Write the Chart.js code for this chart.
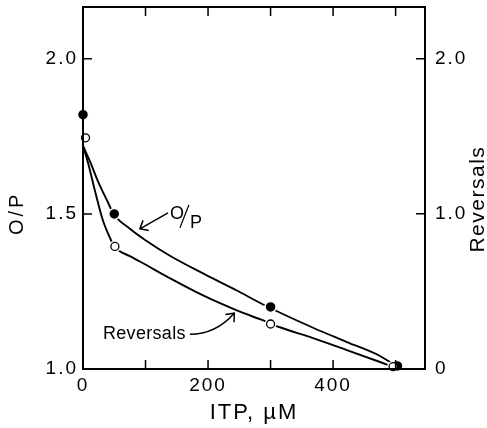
<!DOCTYPE html>
<html>
<head>
<meta charset="utf-8">
<script src="https://cdn.jsdelivr.net/npm/chart.js@4.4.0/dist/chart.umd.min.js"></script>
<style>
  html, body { margin: 0; padding: 0; background: #fff; }
</style>
</head>
<body>
<canvas id="itpChart" width="487" height="428"></canvas>
<script>
// O/P ratio (left axis) and reversals (right axis) against ITP concentration

// measured points
const opX = [0, 50, 300, 503];
const opY = [1.82, 1.5, 1.2, 1.01];
const revX = [4, 51, 300, 496];
const revY = [1.49, 0.79, 0.29, 0.015];

// drawn-in curves
const opCurveX = [0, 11, 24, 38, 50, 75, 100, 139, 192, 246, 288, 368, 422, 475, 497];
const opCurveY = [1.72, 1.67, 1.605, 1.545, 1.497, 1.452, 1.415, 1.365, 1.308, 1.253, 1.208, 1.133, 1.087, 1.042, 1.015];
const revCurveX = [0, 8, 19, 32, 43, 50, 75, 91, 139, 192, 246, 283, 315, 368, 422, 475, 495];
const revCurveY = [1.436, 1.33, 1.15, 0.955, 0.846, 0.79, 0.727, 0.693, 0.585, 0.474, 0.378, 0.321, 0.269, 0.199, 0.122, 0.045, 0.015];

// tick labels
const xLabels = [0, 200, 400];
const opLabels = [1.0, 1.5, 2.0];
const revLabels = [0, 1.0, 2.0];

const toPts = (xs, ys) => xs.map((x, i) => ({ x: x, y: ys[i] }));

Chart.defaults.font.family = '"Liberation Sans", Arial, sans-serif';
Chart.defaults.color = '#000';

const TICK = 9;
const FONT = '"Liberation Sans", Arial, sans-serif';

function arrow(ctx, x0, y0, cx, cy, x1, y1) {
    ctx.beginPath();
    ctx.moveTo(x0, y0);
    ctx.quadraticCurveTo(cx, cy, x1, y1);
    ctx.stroke();
    const ang = Math.atan2(y1 - cy, x1 - cx);
    const len = 9, spread = 0.7;
    ctx.beginPath();
    ctx.moveTo(x1 - len * Math.cos(ang - spread), y1 - len * Math.sin(ang - spread));
    ctx.lineTo(x1, y1);
    ctx.lineTo(x1 - len * Math.cos(ang + spread), y1 - len * Math.sin(ang + spread));
    ctx.stroke();
}

// no extra room for half tick labels at the ends
function noEndPadding(s) {
    s.paddingTop = 0;
    s.paddingBottom = 0;
    s.paddingLeft = 0;
    s.paddingRight = 0;
}

const framePlugin = {
    id: 'framePlugin',
    beforeLayout(chart) { chart.ctx.letterSpacing = '2px'; },
    beforeDraw(chart) { chart.ctx.letterSpacing = '2px'; },
    afterDatasetsDraw(chart) {
        const { ctx, chartArea: a, scales } = chart;
        const { x, y, y2 } = scales;
        ctx.save();
        ctx.strokeStyle = '#000';
        ctx.lineWidth = 2;
        ctx.strokeRect(a.left, a.top, a.right - a.left, a.bottom - a.top);

        // inward tick marks
        ctx.lineWidth = 1.5;
        ctx.beginPath();
        x.ticks.forEach(t => {
            if (t.value <= x.min) return;
            const px = x.getPixelForValue(t.value);
            ctx.moveTo(px, a.bottom); ctx.lineTo(px, a.bottom - TICK);
            ctx.moveTo(px, a.top); ctx.lineTo(px, a.top + TICK);
        });
        y.ticks.forEach(t => {
            if (t.value <= y.min) return;
            const py = y.getPixelForValue(t.value);
            ctx.moveTo(a.left, py); ctx.lineTo(a.left + TICK, py);
        });
        y2.ticks.forEach(t => {
            if (t.value <= y2.min) return;
            const py = y2.getPixelForValue(t.value);
            ctx.moveTo(a.right, py); ctx.lineTo(a.right - TICK, py);
        });
        ctx.stroke();

        // axis titles that read bottom-to-top
        ctx.fillStyle = '#000';
        ctx.textAlign = 'center';
        ctx.textBaseline = 'middle';
        ctx.font = '20px ' + FONT;
        ctx.letterSpacing = '3px';
        ctx.save();
        ctx.translate(17, y.getPixelForValue(1.497));
        ctx.rotate(-Math.PI / 2);
        ctx.fillText('O/P', 1.5, 0);
        ctx.restore();
        ctx.font = '21px ' + FONT;
        ctx.letterSpacing = '1.5px';
        ctx.save();
        ctx.translate(478, y2.getPixelForValue(1.09));
        ctx.rotate(-Math.PI / 2);
        ctx.fillText('Reversals', 0.75, 0);
        ctx.restore();

        // curve labels
        ctx.textAlign = 'left';
        ctx.textBaseline = 'alphabetic';
        ctx.font = '18px ' + FONT;
        ctx.letterSpacing = '0.3px';
        const ox = x.getPixelForValue(139), oy = y.getPixelForValue(1.484);
        ctx.fillText('O', ox, oy);
        ctx.fillText('P', ox + 20, oy + 9);
        ctx.lineWidth = 1.3;
        ctx.beginPath();
        ctx.moveTo(ox + 10, oy + 9); ctx.lineTo(ox + 19, oy - 14);
        ctx.stroke();
        ctx.fillText('Reversals', x.getPixelForValue(32), y.getPixelForValue(1.096));

        ctx.lineWidth = 1.5;
        arrow(ctx,
            x.getPixelForValue(136), y.getPixelForValue(1.503),
            x.getPixelForValue(114), y.getPixelForValue(1.478),
            x.getPixelForValue(91), y.getPixelForValue(1.452));
        arrow(ctx,
            x.getPixelForValue(171), y.getPixelForValue(1.112),
            x.getPixelForValue(212), y.getPixelForValue(1.112),
            x.getPixelForValue(242), y.getPixelForValue(1.18));
        ctx.restore();
    }
};

new Chart(document.getElementById('itpChart'), {
    type: 'line',
    data: {
        datasets: [
            {
                label: 'Reversals',
                data: toPts(revX, revY),
                yAxisID: 'y2',
                showLine: false,
                pointRadius: 4,
                pointBackgroundColor: '#fff',
                pointBorderColor: '#000',
                pointBorderWidth: 1.3,
                clip: false,
                order: 0
            },
            {
                label: 'O/P',
                data: toPts(opX, opY),
                yAxisID: 'y',
                showLine: false,
                pointRadius: 5.5,
                pointBackgroundColor: '#000',
                pointBorderColor: '#fff',
                pointBorderWidth: 1.5,
                clip: false,
                order: 1
            },
            {
                label: 'halo',
                data: toPts(revX, revY),
                yAxisID: 'y2',
                showLine: false,
                pointRadius: 6,
                pointBackgroundColor: '#fff',
                pointBorderWidth: 0,
                clip: false,
                order: 2
            },
            {
                label: 'O/P curve',
                data: toPts(opCurveX, opCurveY),
                yAxisID: 'y',
                borderColor: '#000',
                borderWidth: 1.9,
                pointRadius: 0,
                cubicInterpolationMode: 'monotone',
                order: 3
            },
            {
                label: 'Reversals curve',
                data: toPts(revCurveX, revCurveY),
                yAxisID: 'y2',
                borderColor: '#000',
                borderWidth: 1.9,
                pointRadius: 0,
                cubicInterpolationMode: 'monotone',
                order: 4
            }
        ]
    },
    options: {
        responsive: false,
        animation: false,
        layout: { padding: { top: 5, left: 0, right: 0, bottom: 0 } },
        plugins: {
            legend: { display: false },
            tooltip: { enabled: false }
        },
        scales: {
            x: {
                type: 'linear',
                min: 0,
                max: 547,
                grid: { display: false, drawTicks: false },
                border: { display: false },
                ticks: {
                    stepSize: 100,
                    includeBounds: false,
                    autoSkip: false,
                    maxRotation: 0,
                    padding: 5,
                    font: { size: 19 },
                    callback: v => xLabels.includes(v) ? String(v) : ''
                },
                title: {
                    display: true,
                    text: 'ITP, µM',
                    font: { size: 22 },
                    padding: { top: 0, bottom: 2 }
                },
                afterFit: s => { s.height = 59; noEndPadding(s); }
            },
            y: {
                position: 'left',
                min: 1.0,
                max: 2.167,
                grid: { display: false, drawTicks: false },
                border: { display: false },
                ticks: {
                    stepSize: 0.5,
                    includeBounds: false,
                    padding: 5,
                    font: { size: 19 },
                    callback: v => opLabels.includes(v) ? v.toFixed(1) : ''
                },
                afterFit: s => { s.width = 83; noEndPadding(s); }
            },
            y2: {
                position: 'right',
                min: 0,
                max: 2.333,
                grid: { display: false, drawTicks: false },
                border: { display: false },
                ticks: {
                    stepSize: 1,
                    includeBounds: false,
                    padding: 10,
                    font: { size: 19 },
                    callback: v => revLabels.includes(v) ? (v === 0 ? '0' : v.toFixed(1)) : ''
                },
                afterFit: s => { s.width = 62; noEndPadding(s); }
            }
        }
    },
    plugins: [framePlugin]
});
</script>
</body>
</html>
